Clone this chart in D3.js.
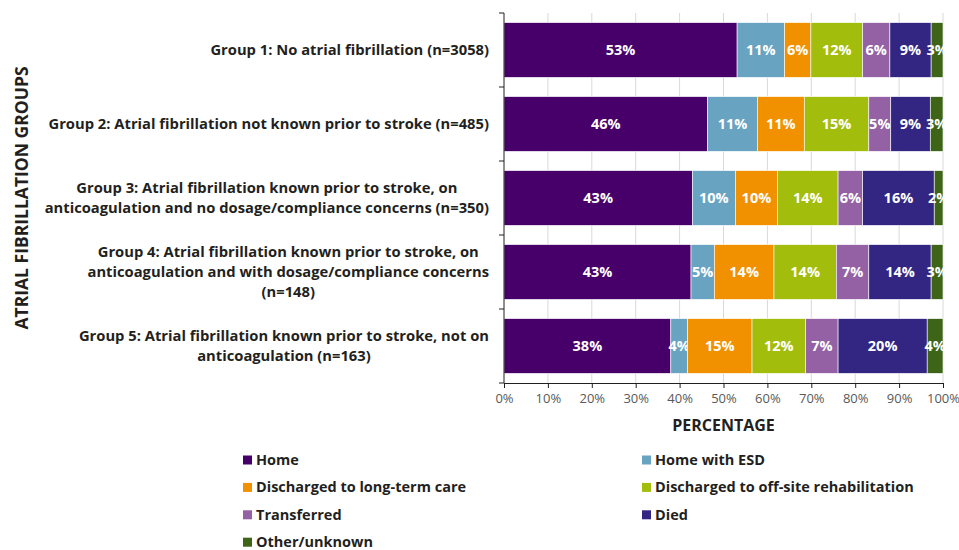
<!DOCTYPE html>
<html>
<head>
<meta charset="utf-8">
<script src="https://cdn.jsdelivr.net/npm/d3@7"></script>
<style>
  html, body { margin: 0; padding: 0; background: #fff; }
  svg { display: block; font-family: "Open Sans", Lato, sans-serif; }
</style>
</head>
<body>
<svg id="chart" width="959" height="550"></svg>
<script>
// Discharge destination by atrial fibrillation group (percent of patients)
const groups = [
  "Group 1: No atrial fibrillation (n=3058)",
  "Group 2: Atrial fibrillation not known prior to stroke (n=485)",
  "Group 3: Atrial fibrillation known prior to stroke, on|anticoagulation and no dosage/compliance concerns (n=350)",
  "Group 4: Atrial fibrillation known prior to stroke, on|anticoagulation and with dosage/compliance concerns|(n=148)",
  "Group 5: Atrial fibrillation known prior to stroke, not on|anticoagulation (n=163)"
];
const outcomes = [
  "Home",
  "Home with ESD",
  "Discharged to long-term care",
  "Discharged to off-site rehabilitation",
  "Transferred",
  "Died",
  "Other/unknown"
];
const home        = [53.1, 46.4, 42.9, 42.6, 38.0];
const homeESD     = [10.8, 11.3,  9.8,  5.3,  3.8];
const longTerm    = [ 6.0, 10.7,  9.6, 13.6, 14.7];
const rehab       = [11.8, 14.7, 13.8, 14.2, 12.2];
const transferred = [ 6.2,  5.0,  5.6,  7.4,  7.4];
const died        = [ 9.4,  9.0, 16.3, 14.2, 20.3];
const other       = [ 2.7,  2.9,  2.0,  2.7,  3.6];
const xTicks = [0, 10, 20, 30, 40, 50, 60, 70, 80, 90, 100];
const colors = ["#47006a", "#68a4c1", "#f29100", "#a3bd0c", "#9461a5", "#322682", "#3d6417"];

const seriesValues = [home, homeESD, longTerm, rehab, transferred, died, other];
const rows = groups.map((g, i) => {
  const r = { group: g };
  outcomes.forEach((o, k) => { r[o] = seriesValues[k][i]; });
  return r;
});

const svg = d3.select("#chart");
const margin = { left: 504, right: 16, top: 13, bottom: 167 };
const W = 959, H = 550;
const x = d3.scaleLinear().domain([0, 100]).range([margin.left, W - margin.right]);
const y = d3.scaleBand().domain(groups).range([margin.top, H - margin.bottom])
  .paddingInner(0.26).paddingOuter(0.13);

const textColor = "#231f20";

// vertical gridlines
svg.append("g").selectAll("line").data(xTicks.slice(1)).join("line")
  .attr("x1", d => x(d)).attr("x2", d => x(d))
  .attr("y1", margin.top).attr("y2", H - margin.bottom)
  .attr("stroke", "#d9d9d9").attr("stroke-width", 1);

// stacked bars
const stack = d3.stack().keys(outcomes)(rows);
const layer = svg.append("g").selectAll("g").data(stack).join("g")
  .attr("fill", (d, i) => colors[i]);
layer.selectAll("rect").data(d => d).join("rect")
  .attr("x", d => x(d[0]))
  .attr("width", d => x(d[1]) - x(d[0]))
  .attr("y", d => y(d.data.group))
  .attr("height", y.bandwidth())
  .attr("stroke", "#ffffff").attr("stroke-width", 0.6);

// value labels
layer.selectAll("text").data(d => d).join("text")
  .attr("x", d => (x(d[0]) + x(d[1])) / 2)
  .attr("y", d => y(d.data.group) + y.bandwidth() / 2)
  .attr("dy", "0.35em")
  .attr("text-anchor", "middle")
  .attr("fill", "#ffffff")
  .attr("font-weight", "bold")
  .attr("font-size", 14.5)
  .text(d => Math.round(d[1] - d[0]) + "%");

// x axis
const xAxis = svg.append("g").attr("transform", `translate(0,${H - margin.bottom})`)
  .call(d3.axisBottom(x).tickValues(xTicks).tickFormat(d => d + "%").tickSize(5).tickSizeOuter(0));
xAxis.select(".domain").attr("stroke", "#231f20");
xAxis.selectAll(".tick line").attr("stroke", "#231f20");
xAxis.selectAll(".tick text").attr("fill", "#595959").attr("font-size", 13)
  .attr("dy", "0.95em").attr("font-family", "Open Sans, sans-serif");

// y axis line with ticks at band boundaries
const yAxisG = svg.append("g");
yAxisG.append("line")
  .attr("x1", margin.left).attr("x2", margin.left)
  .attr("y1", margin.top).attr("y2", H - margin.bottom)
  .attr("stroke", "#231f20");
const step = y.step();
const bounds = d3.range(groups.length + 1).map(i => margin.top + i * step);
yAxisG.selectAll("line.tk").data(bounds).join("line").attr("class", "tk")
  .attr("x1", margin.left - 5).attr("x2", margin.left)
  .attr("y1", d => d).attr("y2", d => d)
  .attr("stroke", "#231f20");

// category labels (lines centred on each other, right edge aligned)
const labelRight = 489;
const lineH = 20;
groups.forEach(g => {
  const lines = g.split("|");
  const cy = y(g) + y.bandwidth() / 2;
  const t = svg.append("text")
    .attr("font-weight", "bold").attr("font-size", 14.75).attr("fill", textColor)
    .attr("text-anchor", "middle");
  const spans = lines.map((ln, i) => t.append("tspan")
    .attr("y", cy + (i - (lines.length - 1) / 2) * lineH)
    .attr("dy", "0.35em").text(ln));
  const maxW = d3.max(spans, s => s.node().getComputedTextLength());
  spans.forEach(s => s.attr("x", labelRight - maxW / 2));
});

// axis titles
svg.append("text")
  .attr("x", x(50)).attr("y", 431)
  .attr("text-anchor", "middle").attr("font-weight", "bold").attr("font-size", 16)
  .attr("fill", textColor).text("PERCENTAGE");
svg.append("text")
  .attr("transform", `translate(28,${(margin.top + H - margin.bottom) / 2}) rotate(-90)`)
  .attr("text-anchor", "middle").attr("font-weight", "bold").attr("font-size", 17.5)
  .attr("fill", textColor).text("ATRIAL FIBRILLATION GROUPS");

// legend in two columns
const legendX = [243, 642];
const legendY0 = 460, legendDY = 27.4;
const lg = svg.append("g").selectAll("g").data(outcomes).join("g")
  .attr("transform", (d, i) => `translate(${legendX[i % 2]},${legendY0 + Math.floor(i / 2) * legendDY})`);
lg.append("rect").attr("x", 0).attr("y", -4.5).attr("width", 9).attr("height", 9)
  .attr("fill", (d, i) => colors[i]);
lg.append("text").attr("x", 13).attr("dy", "0.35em")
  .attr("font-weight", "bold").attr("font-size", 14.5).attr("fill", textColor)
  .text(d => d);
</script>
</body>
</html>
